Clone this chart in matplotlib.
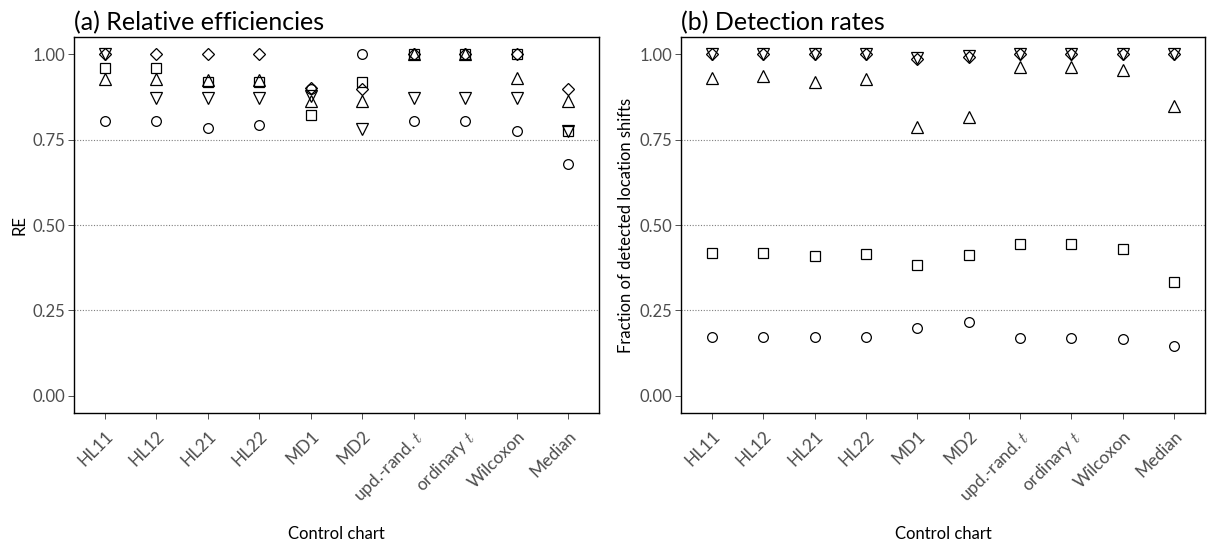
import matplotlib
matplotlib.use("Agg")
import matplotlib.pyplot as plt
import numpy as np

plt.rcParams['font.family'] = ['Lato', 'DejaVu Sans']
plt.rcParams['mathtext.fontset'] = 'cm'

charts = ["HL11", "HL12", "HL21", "HL22", "MD1", "MD2",
          r"upd.-rand. $t$", r"ordinary $t$", "Wilcoxon", "Median"]

# (a) relative efficiencies
re_circle = [0.803, 0.803, 0.784, 0.793, 0.898, 1.000, 0.803, 0.803, 0.775, 0.678]
re_tri_up = [0.926, 0.926, 0.924, 0.924, 0.863, 0.863, 1.000, 1.000, 0.929, 0.863]
re_square = [0.958, 0.958, 0.919, 0.919, 0.822, 0.919, 1.000, 1.000, 1.000, 0.775]
re_diamond = [1.000, 1.000, 1.000, 1.000, 0.902, 0.898, 1.000, 1.000, 1.000, 0.897]
re_tri_down = [1.000, 0.871, 0.871, 0.871, 0.876, 0.780, 0.871, 0.871, 0.871, 0.775]

# (b) detection rates
dr_circle = [0.173, 0.173, 0.171, 0.172, 0.199, 0.215, 0.170, 0.169, 0.167, 0.146]
dr_tri_up = [0.931, 0.937, 0.917, 0.927, 0.787, 0.815, 0.961, 0.961, 0.952, 0.849]
dr_square = [0.419, 0.418, 0.409, 0.414, 0.382, 0.411, 0.443, 0.443, 0.429, 0.334]
dr_diamond = [1.000, 1.000, 1.000, 1.000, 0.987, 0.992, 1.000, 1.000, 1.000, 1.000]
dr_tri_down = [1.000, 1.000, 1.000, 1.000, 0.990, 0.994, 1.000, 1.000, 1.000, 1.000]

y_ticks = [0.0, 0.25, 0.5, 0.75, 1.0]
y_ticklabels = ["0.00", "0.25", "0.50", "0.75", "1.00"]

marker_style = {
    "o": 7.0,
    "^": 8.5,
    "s": 7.0,
    "D": 6.5,
    "v": 8.5,
}

fig = plt.figure(figsize=(12.09, 5.46), dpi=100)
ax_a = fig.add_axes([74 / 1209, 133 / 546, 525 / 1209, 376 / 546])
ax_b = fig.add_axes([681 / 1209, 133 / 546, 524 / 1209, 376 / 546])

grey = "#4D4D4D"


def draw_panel(ax, series, title, ylabel):
    x = np.arange(len(charts))
    for h in (0.25, 0.5, 0.75):
        ax.axhline(h, color="#7F7F7F", linestyle=(0, (1, 1.5)), linewidth=0.8, zorder=0)
    for vals, m in series:
        ax.plot(x, vals, linestyle="none", marker=m, markersize=marker_style[m],
                markerfacecolor="none", markeredgecolor="black",
                markeredgewidth=0.9, zorder=3)
    ax.set_xlim(-0.6, len(charts) - 0.4)
    ax.set_ylim(-0.05, 1.05)
    ax.set_xticks(x)
    ax.set_xticklabels(charts, rotation=45, ha="right", rotation_mode="anchor",
                       fontsize=12.5, color=grey)
    ax.set_yticks(y_ticks)
    ax.set_yticklabels(y_ticklabels, fontsize=12, color=grey)
    ax.tick_params(axis="both", direction="out", length=4, width=0.6,
                   color="#333333", pad=2)
    ax.tick_params(axis="x", pad=7)
    for s in ax.spines.values():
        s.set_color("black")
        s.set_linewidth(1.0)
    ax.set_xlabel("Control chart", fontsize=12, labelpad=14)
    ax.set_ylabel(ylabel, fontsize=12, labelpad=4)
    ax.set_title(title, loc="left", fontsize=18, pad=5, x=0.0)


draw_panel(ax_a,
           [(re_circle, "o"), (re_tri_up, "^"), (re_square, "s"),
            (re_diamond, "D"), (re_tri_down, "v")],
           "(a) Relative efficiencies", "RE")
draw_panel(ax_b,
           [(dr_circle, "o"), (dr_tri_up, "^"), (dr_square, "s"),
            (dr_diamond, "D"), (dr_tri_down, "v")],
           "(b) Detection rates", "Fraction of detected location shifts")

fig.savefig("out.png", dpi=100)
